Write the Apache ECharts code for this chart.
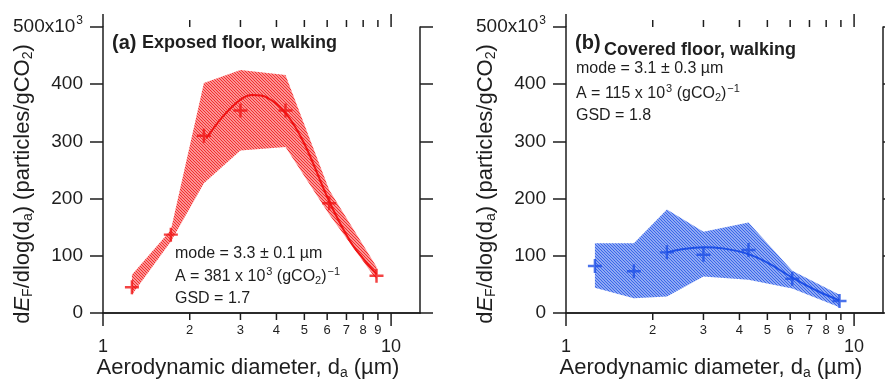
<!DOCTYPE html>
<html>
<head>
<meta charset="utf-8">
<script src="https://cdn.jsdelivr.net/npm/echarts@6/dist/echarts.min.js"></script>
<style>
  html, body { margin: 0; padding: 0; background: #fff; }
  #chart { width: 885px; height: 389px; }
</style>
</head>
<body>
<div id="chart"></div>
<script>
// aerodynamic diameters of the measured bins (µm)
const diameters = [1.26, 1.72, 2.24, 3.0, 4.3, 6.1, 8.9];

// (a) exposed floor, walking  (x10^3 particles/gCO2)
const exposedMean = [45, 137, 310, 354, 354, 192, 65];
const exposedHigh = [67, 145, 402, 425, 416, 215, 81];
const exposedLow = [32, 125, 227, 284, 290, 172, 58];
const exposedFitX = [2.28, 2.6, 3.0, 3.3, 3.7, 4.3, 5.0, 6.1, 7.2, 8.0, 8.9];
const exposedFitY = [305, 343, 373, 381, 377, 350, 296, 195, 126, 95, 68];

// (b) covered floor, walking
const coveredMean = [82, 73, 106, 102, 110, 60, 21];
const coveredHigh = [122, 122, 181, 142, 158, 74, 32];
const coveredLow = [44, 26, 29, 64, 58, 43, 10];
const coveredFitX = [2.24, 2.5, 3.0, 3.5, 4.3, 5.0, 6.1, 7.5, 8.9];
const coveredFitY = [106, 111, 115, 113, 103, 88, 62, 38, 22];

// tick marks of the log x axes
const xTicks = [1, 2, 3, 4, 5, 6, 7, 8, 9, 10];
const xMajor = [1, 10];
const yTop = 500;

const FONT = "'Liberation Sans', Arial, sans-serif";
const INK = '#1e1e1e';
const RED = '#f01414';
const BLUE = '#1d4fe6';

// diagonal hatching like the original's shaded range
function hatch(color, tint) {
  const c = document.createElement('canvas');
  c.width = 3;
  c.height = 3;
  const ctx = c.getContext('2d');
  ctx.fillStyle = tint;
  ctx.fillRect(0, 0, 3, 3);
  ctx.strokeStyle = color;
  ctx.lineWidth = 1.2;
  ctx.beginPath();
  ctx.moveTo(-1, -1); ctx.lineTo(4, 4);
  ctx.moveTo(-1, 2); ctx.lineTo(1, 4);
  ctx.moveTo(2, -1); ctx.lineTo(4, 1);
  ctx.stroke();
  return c;
}

const plus = 'path://M-1.4,-8L1.4,-8L1.4,-1.4L8,-1.4L8,1.4L1.4,1.4L1.4,8L-1.4,8L-1.4,1.4L-8,1.4L-8,-1.4L-1.4,-1.4Z';

function bandSeries(idx, low, high, color, tint) {
  const pattern = { image: hatch(color, tint), repeat: 'repeat' };
  return {
    type: 'custom',
    xAxisIndex: idx * 2,
    yAxisIndex: idx * 2,
    silent: true,
    z: 1,
    data: diameters.map((d, i) => [d, low[i], high[i]]),
    renderItem: function (params, api) {
      if (params.dataIndex !== 0) return;
      const pts = [];
      diameters.forEach((d, i) => pts.push(api.coord([d, high[i]])));
      for (let i = diameters.length - 1; i >= 0; i--) pts.push(api.coord([diameters[i], low[i]]));
      return { type: 'polygon', shape: { points: pts }, style: { fill: pattern, lineWidth: 0 } };
    }
  };
}

function tickSeries(idx) {
  return {
    type: 'custom',
    xAxisIndex: idx * 2,
    yAxisIndex: idx * 2,
    silent: true,
    clip: false,
    z: 5,
    data: xTicks.map(v => [v, 0]),
    renderItem: function (params, api) {
      const v = api.value(0);
      const major = xMajor.indexOf(v) >= 0;
      const len = major ? 13 : 7;
      const b = api.coord([v, 0]);
      const t = api.coord([v, yTop]);
      const ls = { stroke: INK, lineWidth: 1.5 };
      return {
        type: 'group',
        children: [
          { type: 'line', shape: { x1: b[0], y1: b[1], x2: b[0], y2: b[1] + len }, style: ls },
          { type: 'line', shape: { x1: t[0], y1: t[1], x2: t[0], y2: t[1] - len }, style: ls },
          {
            type: 'text',
            x: b[0],
            y: b[1] + (major ? 34 : 17),
            style: {
              text: String(v), fill: INK, fontFamily: FONT, fontSize: major ? 18 : 13,
              align: 'center', verticalAlign: 'middle', textAlign: 'center', textVerticalAlign: 'middle'
            }
          }
        ]
      };
    }
  };
}

function xAxes(grid) {
  const base = {
    type: 'log', logBase: 10, min: 1, max: 12.6, gridIndex: grid,
    axisLine: { show: true, lineStyle: { color: INK, width: 1.5 } },
    axisTick: { show: false }, axisLabel: { show: false },
    splitLine: { show: false }, minorTick: { show: false }
  };
  return [Object.assign({ position: 'bottom' }, base), Object.assign({ position: 'top' }, base)];
}

function yAxes(grid) {
  const base = {
    type: 'value', min: 0, max: yTop, interval: 100, gridIndex: grid,
    axisLine: { show: true, lineStyle: { color: INK, width: 1.5 } },
    axisTick: { show: true, inside: false, length: 13, lineStyle: { color: INK, width: 1.5 } },
    splitLine: { show: false }
  };
  return [
    Object.assign({
      position: 'left',
      axisLabel: {
        show: true, margin: 20, color: INK, fontFamily: FONT, fontSize: 19,
        formatter: v => (v === yTop ? '500x10{sup|3}' : String(v)),
        rich: { sup: { fontSize: 12, fontFamily: FONT, color: INK, padding: [0, 0, 13, 1] } }
      }
    }, base),
    Object.assign({ position: 'right', axisLabel: { show: false } }, base)
  ];
}

const textStyle = (text, size, extra) => Object.assign({
  text: text, fill: INK, fontFamily: FONT, fontSize: size,
  align: 'left', verticalAlign: 'middle', textAlign: 'left', textVerticalAlign: 'middle',
  rich: {
    sup: { fontSize: 11, fontFamily: FONT, fill: INK, color: INK, padding: [0, 0, 11, 1] },
    sub: { fontSize: 11, fontFamily: FONT, fill: INK, color: INK, padding: [8, 0, 0, 0] }
  }
}, extra || {});

function label(x, y, text, size, extra) {
  return { type: 'text', x: x, y: y, silent: true, style: textStyle(text, size, extra) };
}

const titleRich = {
  it: { fontSize: 22, fontStyle: 'italic', fontFamily: FONT, fill: INK, color: INK },
  sub: { fontSize: 14, fontFamily: FONT, fill: INK, color: INK, padding: [10, 0, 0, 0] }
};
const yTitle = 'd{it|E}{sub|F}/dlog(d{sub|a}) (particles/gCO{sub|2})';
const xTitle = 'Aerodynamic diameter, d{sub|a} (µm)';

function titles(axisX, midX) {
  return [
    {
      type: 'text', x: axisX - 80, y: 184, rotation: Math.PI / 2, silent: true,
      style: textStyle(yTitle, 22, { align: 'center', textAlign: 'center', rich: titleRich })
    },
    {
      type: 'text', x: midX, y: 368, silent: true,
      style: textStyle(xTitle, 22, { align: 'center', textAlign: 'center', rich: titleRich })
    }
  ];
}

const chart = echarts.init(document.getElementById('chart'), null, { renderer: 'canvas' });

chart.setOption({
  animation: false,
  backgroundColor: '#fff',
  grid: [
    { left: 103, top: 27, width: 317, height: 286 },
    { left: 566, top: 27, width: 317, height: 286 }
  ],
  xAxis: xAxes(0).concat(xAxes(1)),
  yAxis: yAxes(0).concat(yAxes(1)),
  series: [
    bandSeries(0, exposedLow, exposedHigh, '#f22a2a', '#ffc4c4'),
    {
      type: 'line', xAxisIndex: 0, yAxisIndex: 0, smooth: 0.35, showSymbol: false, z: 3,
      lineStyle: { color: RED, width: 2 },
      data: exposedFitX.map((x, i) => [x, exposedFitY[i]])
    },
    {
      type: 'scatter', xAxisIndex: 0, yAxisIndex: 0, symbol: plus, symbolSize: 14, z: 4,
      itemStyle: { color: RED },
      data: diameters.map((d, i) => [d, exposedMean[i]])
    },
    tickSeries(0),

    bandSeries(1, coveredLow, coveredHigh, '#3563ea', '#b9c9f7'),
    {
      type: 'line', xAxisIndex: 2, yAxisIndex: 2, smooth: 0.35, showSymbol: false, z: 3,
      lineStyle: { color: BLUE, width: 2 },
      data: coveredFitX.map((x, i) => [x, coveredFitY[i]])
    },
    {
      type: 'scatter', xAxisIndex: 2, yAxisIndex: 2, symbol: plus, symbolSize: 14, z: 4,
      itemStyle: { color: BLUE },
      data: diameters.map((d, i) => [d, coveredMean[i]])
    },
    tickSeries(1)
  ],
  graphic: [
    label(112, 43, '(a)', 20, { fontWeight: 'bold' }),
    label(142, 43, 'Exposed floor, walking', 18, { fontWeight: 'bold' }),
    label(175, 254, 'mode = 3.3 ± 0.1 µm', 16),
    label(175, 277, 'A = 381 x 10{sup|3} (gCO{sub|2}){sup|−1}', 16),
    label(175, 299, 'GSD = 1.7', 16),

    label(575, 43, '(b)', 20, { fontWeight: 'bold' }),
    label(604, 50, 'Covered floor, walking', 18, { fontWeight: 'bold' }),
    label(576, 69, 'mode = 3.1 ± 0.3 µm', 16),
    label(576, 94, 'A = 115 x 10{sup|3} (gCO{sub|2}){sup|−1}', 16),
    label(576, 116, 'GSD = 1.8', 16)
  ].concat(titles(103, 248), titles(566, 711))
});
</script>
</body>
</html>
